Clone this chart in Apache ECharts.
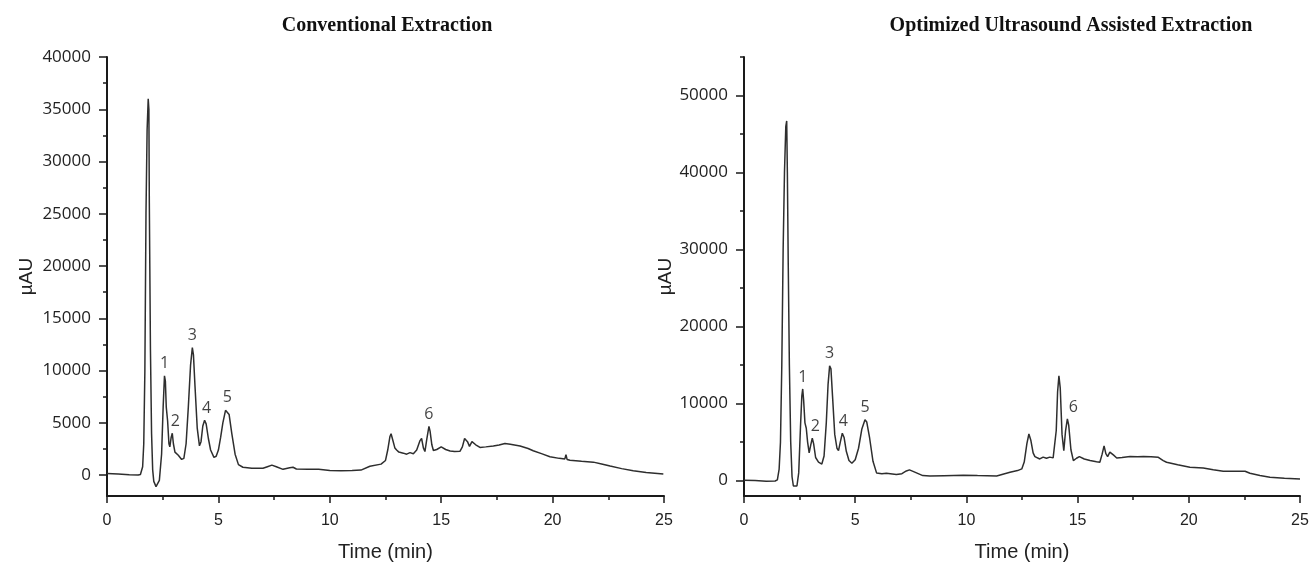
<!DOCTYPE html>
<html>
<head>
<meta charset="utf-8">
<script src="https://cdn.jsdelivr.net/npm/echarts@6/dist/echarts.min.js"></script>
<style>
html,body{margin:0;padding:0;background:#fff;}
#chart{width:1314px;height:563px;}
</style>
</head>
<body>
<div id="chart"></div>
<script>
// ---- Conventional Extraction ----
const timeLeft = [0,0.5,1.0,1.4,1.5,1.6,1.65,1.7,1.75,1.8,1.85,1.88,1.9,1.95,2.0,2.05,2.1,2.2,2.28,2.35,2.45,2.52,2.58,2.62,2.66,2.72,2.78,2.82,2.88,2.93,2.98,3.05,3.2,3.35,3.45,3.55,3.65,3.75,3.83,3.88,3.95,4.05,4.15,4.22,4.3,4.38,4.45,4.55,4.65,4.8,4.9,5.0,5.1,5.2,5.32,5.4,5.48,5.6,5.75,5.9,6.1,6.5,7.0,7.2,7.4,7.6,7.9,8.2,8.35,8.5,9.0,9.5,10.0,10.5,11.0,11.4,11.8,12.3,12.5,12.6,12.7,12.75,12.82,12.92,13.0,13.1,13.3,13.45,13.6,13.75,13.9,14.05,14.12,14.2,14.27,14.35,14.45,14.5,14.58,14.65,14.8,15.0,15.2,15.4,15.6,15.84,15.95,16.05,16.11,16.18,16.27,16.38,16.45,16.55,16.74,17.0,17.34,17.6,17.86,18.1,18.54,18.9,19.13,19.5,19.88,20.3,20.55,20.6,20.65,20.78,21.3,21.83,22.2,22.58,23.1,23.62,24.2,24.97];
const signalLeft = [150,100,30,0,50,800,3000,10000,25000,33000,36000,35000,26000,12000,4000,500,-600,-1100,-1050,-500,2000,6500,9500,9000,6500,5200,3000,2700,3600,4000,3000,2200,1900,1500,1600,3000,6500,10500,12200,11500,8500,4500,2800,3200,4700,5250,4900,3500,2400,1700,1800,2400,3600,5000,6200,6300,5800,4000,2000,1000,750,650,650,800,950,800,550,700,750,580,560,570,450,420,430,480,850,1050,1400,2400,3700,3950,3400,2600,2400,2200,2100,2000,2150,2050,2400,3300,3500,2600,2250,3400,4650,4200,2900,2350,2450,2700,2450,2300,2250,2280,2700,3500,3650,3200,2750,3200,3280,2900,2650,2700,2780,2880,3020,2950,2790,2550,2330,2050,1760,1600,1550,1950,1500,1430,1330,1240,1070,870,620,420,240,100];

// ---- Optimized Ultrasound Assisted Extraction ----
const timeRight = [0,0.5,1.0,1.4,1.5,1.58,1.64,1.7,1.76,1.82,1.88,1.92,1.95,1.99,2.04,2.1,2.16,2.22,2.3,2.38,2.46,2.54,2.6,2.64,2.68,2.74,2.8,2.86,2.93,3.0,3.07,3.13,3.22,3.35,3.5,3.6,3.7,3.78,3.85,3.91,3.98,4.08,4.18,4.25,4.33,4.42,4.5,4.6,4.72,4.85,5.0,5.15,5.3,5.44,5.52,5.65,5.8,5.96,6.2,6.4,6.85,7.1,7.3,7.44,7.6,8.04,8.36,9.0,9.86,10.5,11.36,11.96,12.3,12.49,12.6,12.72,12.81,12.9,13.0,13.08,13.3,13.45,13.6,13.75,13.9,13.98,14.04,14.1,14.16,14.22,14.3,14.38,14.46,14.54,14.6,14.7,14.81,14.95,15.08,15.3,15.56,15.85,16.0,16.1,16.19,16.27,16.35,16.45,16.53,16.62,16.76,17.0,17.36,17.7,17.96,18.3,18.63,18.85,19.0,19.5,20.05,20.65,21.1,21.55,22.0,22.53,22.75,23.2,23.65,24.3,25.0];
const signalRight = [50,0,-80,-50,100,1500,5000,15000,30000,40000,46000,46700,40000,28000,15000,5000,500,-700,-950,-700,1000,7000,11000,11900,10500,7500,6800,5000,3600,4600,5500,4800,3000,2400,2150,3200,7500,12500,14900,14500,11000,6000,4200,3900,5000,6150,5600,3800,2600,2250,2700,4200,6700,7900,7600,5500,2500,1000,900,950,780,900,1250,1390,1200,650,600,640,690,650,600,1080,1300,1520,2400,4800,6050,5200,3600,3120,2810,3050,2900,3050,2950,2950,6500,11500,13600,12000,6000,3900,6500,8000,7200,4000,2600,2900,3120,2800,2600,2450,2380,3400,4500,3500,3120,3700,3950,3300,2940,3000,3120,3100,3130,3100,3030,2600,2380,2050,1730,1640,1400,1210,1200,1220,950,650,430,300,200];

// ---- peak annotations ----
const peakNames = ['1','2','3','4','5','6'];
const peakTimesLeft = [2.58,2.93,3.83,4.38,5.4,14.45];
const peakValuesLeft = [9500,4000,12200,5250,6300,4650];
const peakTimesRight = [2.64,3.07,3.85,4.42,5.44,14.54];
const peakValuesRight = [11900,5500,14900,6150,7900,8000];

// ---- axes ticks / labels ----
const xLabelValues = [0,5,10,15,20,25];
const xMinorTicks = [2.5,7.5,12.5,17.5,22.5];
const yLabelsLeft = [0,5000,10000,15000,20000,25000,30000,35000,40000];
const yMinorLeft = [2500,7500,12500,17500,22500,27500,32500,37500];
const yLabelsRight = [0,10000,20000,30000,40000,50000];
const yMinorRight = [5000,15000,25000,35000,45000,55000];

const titles = ['Conventional Extraction','Optimized Ultrasound Assisted Extraction'];

function pairs(t, v){ return t.map((x,i)=>[x,v[i]]); }

const AX = '#1a1a1a';
const LINE = '#2e2e2e';

function xAxes(grid){
  return [{
    type:'value', gridIndex:grid, min:0, max:25, position:'bottom',
    name:'Time (min)', nameLocation:'middle', nameGap:46,
    nameTextStyle:{fontFamily:'Liberation Sans', fontSize:20, color:'#222'},
    axisLine:{show:true, onZero:false, lineStyle:{color:AX, width:2}},
    axisTick:{show:true, length:7, lineStyle:{color:AX, width:1.5}, customValues:xLabelValues},
    axisLabel:{show:true, margin:17, fontFamily:'Liberation Sans', fontSize:16, color:'#222', customValues:xLabelValues},
    splitLine:{show:false}
  },{
    type:'value', gridIndex:grid, min:0, max:25, position:'bottom',
    axisLine:{show:false, onZero:false},
    axisTick:{show:true, length:4, lineStyle:{color:AX, width:1.5}, customValues:xMinorTicks},
    axisLabel:{show:false},
    splitLine:{show:false}
  }];
}
function yAxes(grid, max, labels, minor, gap){
  return [{
    type:'value', gridIndex:grid, min:-2000, max:max, position:'left',
    name:'µAU', nameLocation:'middle', nameGap:gap, nameRotate:90,
    nameTextStyle:{fontFamily:'Liberation Sans', fontSize:19, color:'#222'},
    axisLine:{show:true, onZero:false, lineStyle:{color:AX, width:2}},
    axisTick:{show:true, length:8, lineStyle:{color:AX, width:1.5}, customValues:labels},
    axisLabel:{show:true, margin:16, fontFamily:'Open Sans', fontSize:17, color:'#222',
      customValues:labels, formatter:v=>String(v)},
    splitLine:{show:false}
  },{
    type:'value', gridIndex:grid, min:-2000, max:max, position:'left',
    axisLine:{show:false, onZero:false},
    axisTick:{show:true, length:4, lineStyle:{color:AX, width:1.5}, customValues:minor},
    axisLabel:{show:false},
    splitLine:{show:false}
  }];
}
function peakSeries(xi, yi, times, values, offsets){
  return {
    type:'scatter', xAxisIndex:xi, yAxisIndex:yi, symbolSize:0, silent:true,
    data: times.map((t,i)=>({value:[t, values[i]], name:peakNames[i],
      label:{offset: offsets[i] || [0,0]}})),
    label:{show:true, position:'top', distance:4, formatter:p=>p.name,
      fontFamily:'Open Sans', fontSize:16, color:'#111'}
  };
}

const chart = echarts.init(document.getElementById('chart'), null, {renderer:'canvas'});
chart.setOption({
  animation:false,
  backgroundColor:'#fff',
  title:[
    {text:titles[0], left:387, top:16, textAlign:'center', padding:0,
     textStyle:{fontFamily:'Liberation Serif', fontWeight:'bold', fontSize:20, color:'#111'}},
    {text:titles[1], left:1071, top:16, textAlign:'center', padding:0,
     textStyle:{fontFamily:'Liberation Serif', fontWeight:'bold', fontSize:20, color:'#111'}}
  ],
  grid:[
    {left:107, top:57, width:557, height:439, outerBoundsMode:'none', containLabel:false},
    {left:744, top:57, width:556, height:439, outerBoundsMode:'none', containLabel:false}
  ],
  xAxis:[...xAxes(0), ...xAxes(1)],
  yAxis:[...yAxes(0, 40000, yLabelsLeft, yMinorLeft, 71), ...yAxes(1, 55000, yLabelsRight, yMinorRight, 69)],
  series:[
    {type:'line', xAxisIndex:0, yAxisIndex:0, data:pairs(timeLeft, signalLeft), showSymbol:false,
     lineStyle:{color:LINE, width:1.5}, silent:true},
    {type:'line', xAxisIndex:2, yAxisIndex:2, data:pairs(timeRight, signalRight), showSymbol:false,
     lineStyle:{color:LINE, width:1.5}, silent:true},
    peakSeries(0, 0, peakTimesLeft, peakValuesLeft, [null,[3,0],null,[2,0],null,null]),
    peakSeries(2, 2, peakTimesRight, peakValuesRight, [null,[3,0],null,[1,0],null,[6,0]])
  ]
});
</script>
</body>
</html>
